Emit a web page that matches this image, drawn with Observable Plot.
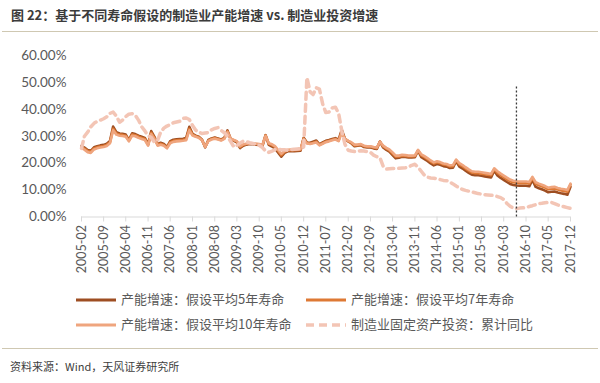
<!DOCTYPE html>
<html><head><meta charset="utf-8">
<script src="https://cdn.jsdelivr.net/npm/d3@7"></script>
<script src="https://cdn.jsdelivr.net/npm/@observablehq/plot@0.6"></script>
<style>
body{margin:0;width:600px;height:383px;position:relative;background:#fff;overflow:hidden;font-family:"Lato","Noto Sans CJK SC",sans-serif}
#title{position:absolute;left:11px;top:5px;font-size:13px;font-weight:bold;color:#3b3b3b;line-height:20px;font-family:"Noto Sans CJK SC",sans-serif;white-space:nowrap}
.sep{position:absolute;left:2px;width:596px;height:0;border-top:1.5px solid #cfc8b2}
#chart{position:absolute;left:0;top:35px}
.leg{position:absolute;font-size:13px;color:#595959;line-height:18px;white-space:nowrap;font-family:"Noto Sans CJK SC",sans-serif}
.leg svg{vertical-align:middle;margin-right:5px}
#source{position:absolute;left:10px;top:357px;font-size:11px;color:#404040;line-height:18px;font-family:"Noto Sans CJK SC",sans-serif}
</style>
</head><body>
<div id="title">图 22：基于不同寿命假设的制造业产能增速 vs. 制造业投资增速</div>
<div class="sep" style="top:31px"></div>
<div id="chart"></div>
<div id="legend"></div>
<div class="sep" style="top:348px"></div>
<div id="source">资料来源：Wind，天风证券研究所</div>
<script>
// Monthly values 2005-02 .. 2017-12 (%)
const seriesNames = ["产能增速：假设平均5年寿命","产能增速：假设平均7年寿命","产能增速：假设平均10年寿命","制造业固定资产投资：累计同比"];
const cap5 = [
26.4,25.8,24.9,24.6,25.9,26.3,26.6,26.8,27.2,28.2,33.6,
31.5,31.0,30.9,30.6,28.6,31.1,30.8,30.2,29.8,29.4,27.0,31.9,
29.8,27.0,27.6,27.1,26.0,28.2,28.7,28.9,29.0,29.1,29.3,33.5,
30.9,30.2,29.8,28.7,25.9,28.6,29.2,29.5,29.2,28.8,29.4,32.2,
28.9,28.3,27.7,25.6,26.5,26.9,27.1,27.0,26.9,26.8,26.3,30.4,
26.8,26.2,25.5,23.9,22.4,23.8,24.4,24.5,24.4,24.5,24.6,29.4,
27.7,27.6,28.0,28.4,27.0,27.7,28.3,28.6,29.0,29.3,28.7,32.4,
29.0,28.1,27.4,26.3,26.5,26.7,26.0,25.8,25.8,25.5,25.3,28.0,
25.8,24.9,24.3,23.0,21.8,22.0,22.4,22.3,22.1,22.1,22.2,24.6,
22.2,21.5,20.8,19.9,19.2,19.7,19.4,18.9,18.7,18.2,18.3,20.7,
18.7,18.0,17.2,16.4,15.7,15.5,15.5,15.3,15.1,14.9,14.7,17.2,
15.4,14.5,13.8,13.0,12.3,11.9,11.7,11.6,11.6,11.6,11.4,13.8,
11.2,10.7,10.3,9.8,9.2,9.4,9.5,9.1,8.8,8.6,8.3,11.2
];
const cap7 = [
26.0,25.4,24.5,24.2,25.5,25.9,26.2,26.4,26.8,27.8,32.8,
31.0,30.6,30.5,30.2,28.4,30.6,30.4,29.8,29.4,29.0,26.8,31.3,
29.4,26.8,27.2,26.8,25.8,27.8,28.3,28.5,28.6,28.7,28.9,32.8,
30.6,30.0,29.6,28.6,26.0,28.4,29.0,29.3,29.0,28.6,29.2,31.8,
29.0,28.5,28.0,26.0,26.8,27.1,27.3,27.2,27.1,27.0,26.6,30.3,
27.2,26.7,26.0,24.5,23.0,24.2,24.8,24.9,24.8,24.9,25.0,29.2,
27.5,27.3,27.6,28.0,26.8,27.4,28.0,28.3,28.7,29.0,28.4,31.8,
29.0,28.2,27.6,26.6,26.7,26.9,26.3,26.1,26.1,25.8,25.6,28.0,
26.2,25.4,24.8,23.6,22.4,22.5,22.8,22.7,22.5,22.5,22.6,24.8,
22.9,22.2,21.5,20.6,19.9,20.3,20.0,19.5,19.3,18.8,18.9,21.1,
19.5,18.8,18.0,17.2,16.5,16.3,16.3,16.1,15.9,15.7,15.5,17.8,
16.4,15.5,14.8,14.0,13.3,12.9,12.7,12.6,12.6,12.6,12.4,14.5,
12.3,11.8,11.4,10.9,10.3,10.5,10.6,10.2,9.9,9.7,9.4,12.0
];
const cap10 = [
25.6,25.0,24.1,23.8,25.1,25.5,25.8,26.0,26.4,27.4,32.2,
30.6,30.2,30.1,29.8,28.1,30.2,30.0,29.4,29.0,28.6,26.5,30.8,
29.0,26.5,26.8,26.5,25.5,27.4,27.9,28.1,28.2,28.3,28.5,32.2,
30.3,29.8,29.4,28.5,26.1,28.2,28.8,29.1,28.8,28.4,29.0,31.5,
29.1,28.6,28.2,26.3,27.0,27.2,27.4,27.3,27.2,27.1,26.8,30.1,
27.4,27.0,26.3,24.9,23.5,24.5,25.0,25.1,25.0,25.1,25.2,28.8,
27.3,27.1,27.4,27.7,26.6,27.2,27.8,28.1,28.5,28.8,28.2,31.3,
29.0,28.3,27.8,26.9,26.9,27.1,26.5,26.3,26.3,26.0,25.8,27.9,
26.5,25.7,25.1,24.0,22.8,22.8,23.1,23.0,22.8,22.8,22.9,24.9,
23.3,22.6,21.9,21.0,20.3,20.7,20.4,19.9,19.7,19.2,19.3,21.3,
20.0,19.3,18.5,17.7,17.0,16.8,16.8,16.6,16.4,16.2,16.0,18.1,
17.0,16.1,15.4,14.6,13.9,13.5,13.3,13.2,13.2,13.2,13.0,14.9,
12.9,12.4,12.0,11.5,10.9,11.1,11.2,10.8,10.5,10.3,10.0,12.4
];
const invest = [
25.5,30.0,31.5,33.5,34.8,35.5,36.0,36.5,37.2,38.5,39.0,
37.5,35.2,36.0,37.3,38.2,38.4,37.8,36.0,33.5,32.0,30.2,29.5,
27.8,28.5,31.5,33.0,33.8,34.3,35.0,35.3,35.6,36.6,36.8,36.2,
34.0,32.2,31.5,31.0,31.2,31.4,32.4,32.9,33.2,32.2,31.3,30.0,
28.0,26.0,26.5,27.5,28.2,28.0,27.6,27.3,27.0,26.6,25.8,24.5,
24.0,24.5,25.0,25.2,25.0,25.0,24.8,25.0,25.2,25.3,25.4,26.0,
51.8,46.5,45.5,48.0,47.5,42.0,38.8,39.0,40.5,40.8,38.5,32.0,
27.0,24.8,24.5,24.3,24.5,24.6,24.5,24.3,24.0,23.0,22.4,22.0,
18.8,17.8,17.9,18.0,18.0,18.1,18.2,18.3,18.5,19.2,19.6,18.5,
17.0,15.5,14.8,14.5,14.4,14.2,13.9,13.6,13.5,13.0,12.3,11.5,
10.8,10.2,9.9,9.6,9.3,9.0,8.7,8.5,8.3,8.2,8.1,8.0,
7.6,7.2,6.5,5.0,4.0,3.3,3.1,3.3,3.4,3.5,3.9,4.2,
4.6,5.0,5.1,5.3,5.4,5.4,5.0,4.5,4.1,3.8,3.5,3.2
];
const firstMonth = "2005-02", lastMonth = "2017-12";
const xTickLabels = ["2005-02","2005-09","2006-04","2006-11","2007-06","2008-01","2008-08","2009-03","2009-10","2010-05","2010-12","2011-07","2012-02","2012-09","2013-04","2013-11","2014-06","2015-01","2015-08","2016-03","2016-10","2017-05","2017-12"];
const yTicks = [0,10,20,30,40,50,60];
const markerMonth = "2016-07";
const markerTop = 49;

const parse = d3.utcParse("%Y-%m");
const d0 = parse(firstMonth), d1 = parse(lastMonth);
const months = d3.utcMonth.range(d0, d3.utcMonth.offset(d1, 1));
const rows = months.map((date, i) => ({date, cap5: cap5[i], cap7: cap7[i], cap10: cap10[i], invest: invest[i]}));

const colors = ["#9E4E22", "#DE7934", "#EFA57E", "#F3C5B5"];

const chart = Plot.plot({
  width: 600, height: 245,
  marginLeft: 81, marginRight: 30, marginTop: 20, marginBottom: 63.5,
  style: {fontFamily: "Lato, 'Noto Sans CJK SC', sans-serif", background: "transparent", color: "#595959"},
  x: {type: "utc", domain: [d0, d1], label: null},
  y: {domain: [0, 60], label: null},
  marks: [
    Plot.axisY({ticks: yTicks, tickFormat: d => d.toFixed(2) + "%", tickSize: 0, tickPadding: 15, fontSize: 13.5, color: "#595959", label: null}),
    Plot.axisX({ticks: xTickLabels.map(parse), tickFormat: d3.utcFormat("%Y-%m"), tickRotate: -90, tickSize: 5, tickPadding: 3, fontSize: 12.5, color: "#595959", stroke: "#d9d9d9", label: null}),
    Plot.ruleY([0], {stroke: "#d9d9d9"}),
    Plot.line(rows, {x: "date", y: "cap5", stroke: colors[0], strokeWidth: 2.6, strokeLinejoin: "round"}),
    Plot.line(rows, {x: "date", y: "cap7", stroke: colors[1], strokeWidth: 2.6, strokeLinejoin: "round"}),
    Plot.line(rows, {x: "date", y: "cap10", stroke: colors[2], strokeWidth: 2.6, strokeLinejoin: "round"}),
    Plot.line(rows, {x: "date", y: "invest", stroke: colors[3], strokeWidth: 3.5, strokeDasharray: "7,5"}),
    Plot.ruleX([{d: parse(markerMonth), a: 0, b: markerTop}], {x: "d", y1: "a", y2: "b", stroke: "#3a3a3a", strokeWidth: 1.3, strokeDasharray: "2,2"})
  ]
});
document.getElementById("chart").appendChild(chart);

// legend
const legend = document.getElementById("legend");
const pos = [[76, 290], [306, 290], [76, 315], [306, 315]];
seriesNames.forEach((name, i) => {
  const div = document.createElement("div");
  div.className = "leg";
  div.style.left = pos[i][0] + "px";
  div.style.top = pos[i][1] + "px";
  const dash = i === 3 ? ' stroke-dasharray="8,5"' : '';
  div.innerHTML = `<svg width="40" height="8"><line x1="0" y1="4" x2="40" y2="4" stroke="${colors[i]}" stroke-width="${i===3?3.5:3}"${dash}/></svg>${name}`;
  legend.appendChild(div);
});
</script>
</body></html>
